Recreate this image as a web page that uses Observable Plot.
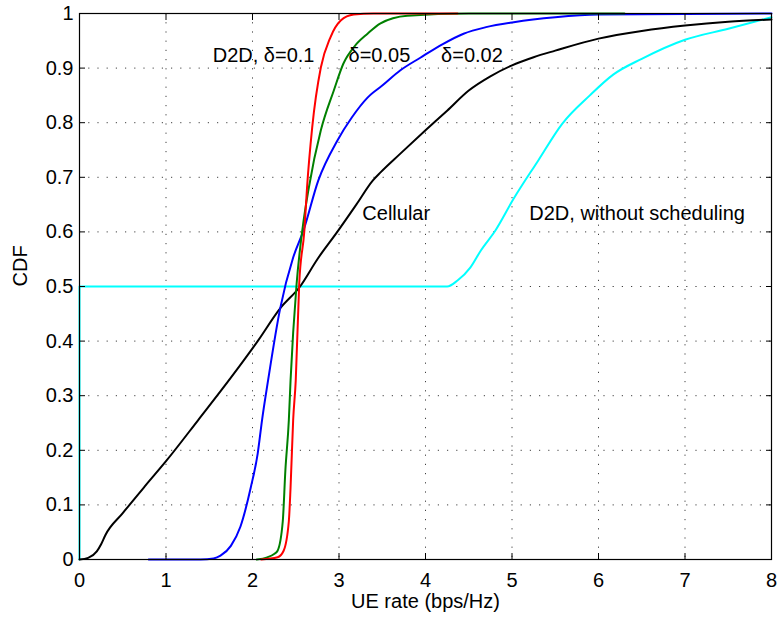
<!DOCTYPE html>
<html>
<head>
<meta charset="utf-8">
<script src="https://cdn.jsdelivr.net/npm/d3@7"></script>
<script src="https://cdn.jsdelivr.net/npm/@observablehq/plot@0.6"></script>
<style>
  html, body { margin: 0; padding: 0; background: #fff; }
</style>
</head>
<body>
<div id="chart"></div>
<script>
// Cellular (black)
const cellX = [0, 0.1, 0.2, 0.25, 0.3, 0.5, 0.75, 1.0, 1.37, 1.75, 2.06, 2.32, 2.55, 2.75, 2.98, 3.2, 3.39, 3.48, 3.7, 4.0, 4.25, 4.5, 4.75, 5.0, 5.25, 5.5, 6.0, 6.5, 7.0, 7.5, 8.0];
const cellY = [0, 0.003, 0.015, 0.028, 0.045, 0.085, 0.133, 0.18, 0.255, 0.333, 0.4, 0.46, 0.5, 0.55, 0.60, 0.65, 0.694, 0.709, 0.742, 0.786, 0.822, 0.859, 0.885, 0.905, 0.92, 0.932, 0.954, 0.968, 0.978, 0.985, 0.989];
// D2D delta=0.02 (blue)
const d02X = [0.8, 1.4, 1.55, 1.63, 1.75, 1.86, 1.98, 2.06, 2.11, 2.18, 2.32, 2.47, 2.59, 2.76, 2.98, 3.15, 3.33, 3.5, 3.71, 3.94, 4.2, 4.44, 4.7, 5.02, 5.5, 6.0, 8.0];
const d02Y = [0, 0, 0.002, 0.007, 0.025, 0.06, 0.132, 0.194, 0.255, 0.328, 0.46, 0.553, 0.603, 0.694, 0.767, 0.81, 0.846, 0.868, 0.896, 0.919, 0.944, 0.963, 0.975, 0.984, 0.993, 0.998, 1];
// D2D delta=0.05 (green)
const d05X = [2.05, 2.17, 2.25, 2.29, 2.35, 2.38, 2.42, 2.44, 2.51, 2.58, 2.65, 2.79, 2.94, 3.05, 3.18, 3.33, 3.48, 3.79, 4.5, 6.3];
const d05Y = [0, 0.004, 0.01, 0.016, 0.07, 0.163, 0.255, 0.328, 0.505, 0.608, 0.68, 0.786, 0.859, 0.908, 0.94, 0.963, 0.982, 0.996, 1, 1];
// D2D delta=0.1 (red)
const d10X = [2.1, 2.29, 2.36, 2.42, 2.44, 2.47, 2.50, 2.54, 2.60, 2.63, 2.69, 2.79, 2.90, 3.02, 3.17, 3.4, 4.37];
const d10Y = [0, 0.004, 0.016, 0.07, 0.132, 0.255, 0.328, 0.505, 0.603, 0.68, 0.791, 0.901, 0.956, 0.987, 0.998, 1, 1];
// D2D without scheduling (cyan)
const noSchX = [0, 0, 4.25, 4.37, 4.52, 4.64, 4.81, 5.02, 5.3, 5.58, 5.9, 6.17, 6.5, 7.0, 7.5, 8.0];
const noSchY = [0, 0.5, 0.5, 0.511, 0.535, 0.566, 0.603, 0.661, 0.73, 0.798, 0.85, 0.888, 0.917, 0.952, 0.972, 0.993];

const xTicks = [0, 1, 2, 3, 4, 5, 6, 7, 8];
const yTicks = [0, 0.1, 0.2, 0.3, 0.4, 0.5, 0.6, 0.7, 0.8, 0.9, 1];

const labelTexts = ["D2D, δ=0.1", "δ=0.05", "δ=0.02", "Cellular", "D2D, without scheduling"];
const labelX = [1.54, 3.11, 4.18, 3.27, 5.2];
const labelY = [0.922, 0.922, 0.922, 0.634, 0.634];

const series = [
  {name: "noSch", xs: noSchX, ys: noSchY, color: "#00ffff"},
  {name: "cell", xs: cellX, ys: cellY, color: "#000000"},
  {name: "d02", xs: d02X, ys: d02Y, color: "#0000ff"},
  {name: "d05", xs: d05X, ys: d05Y, color: "#008000"},
  {name: "d10", xs: d10X, ys: d10Y, color: "#ff0000"}
];
const toRows = s => s.xs.map((x, i) => ({x, y: s.ys[i]}));
const labels = labelTexts.map((t, i) => ({t, x: labelX[i], y: labelY[i]}));

const grid = {stroke: "#000", strokeOpacity: 0.75, strokeDasharray: "1.2,8"};

const chart = Plot.plot({
  width: 779,
  height: 619,
  marginLeft: 79,
  marginRight: 8,
  marginTop: 13,
  marginBottom: 60,
  style: {fontFamily: "'Liberation Sans', Arial, Helvetica, sans-serif", fontSize: "20px", background: "#fff", color: "#000"},
  x: {domain: [0, 8]},
  y: {domain: [0, 1]},
  marks: [
    Plot.ruleX(xTicks.slice(1, -1), {...grid}),
    Plot.ruleY(yTicks.slice(1, -1), {...grid}),
    ...series.map(s => Plot.line(toRows(s), {x: "x", y: "y", stroke: s.color, strokeWidth: 2, curve: "monotone-x"})),
    Plot.axisX(xTicks, {anchor: "bottom", tickSize: -6, tickPadding: 19, label: null, tickFormat: d => String(d)}),
    Plot.axisX(xTicks, {anchor: "top", tickSize: -6, label: null, tickFormat: () => ""}),
    Plot.axisY(yTicks, {anchor: "left", tickSize: -6, tickPadding: 12, label: null, tickFormat: d => String(d)}),
    Plot.axisY(yTicks, {anchor: "right", tickSize: -6, label: null, tickFormat: () => ""}),
    Plot.frame({stroke: "#000", strokeWidth: 1.2}),
    Plot.text(labels, {x: "x", y: "y", text: "t", textAnchor: "start", fill: "#000", fontSize: 20}),
    Plot.text(["UE rate (bps/Hz)"], {frameAnchor: "bottom", dy: 48, fill: "#000", fontSize: 20}),
    Plot.text(["CDF"], {frameAnchor: "left", dx: -59, rotate: -90, fill: "#000", fontSize: 20})
  ]
});
document.getElementById("chart").appendChild(chart);
</script>
</body>
</html>
